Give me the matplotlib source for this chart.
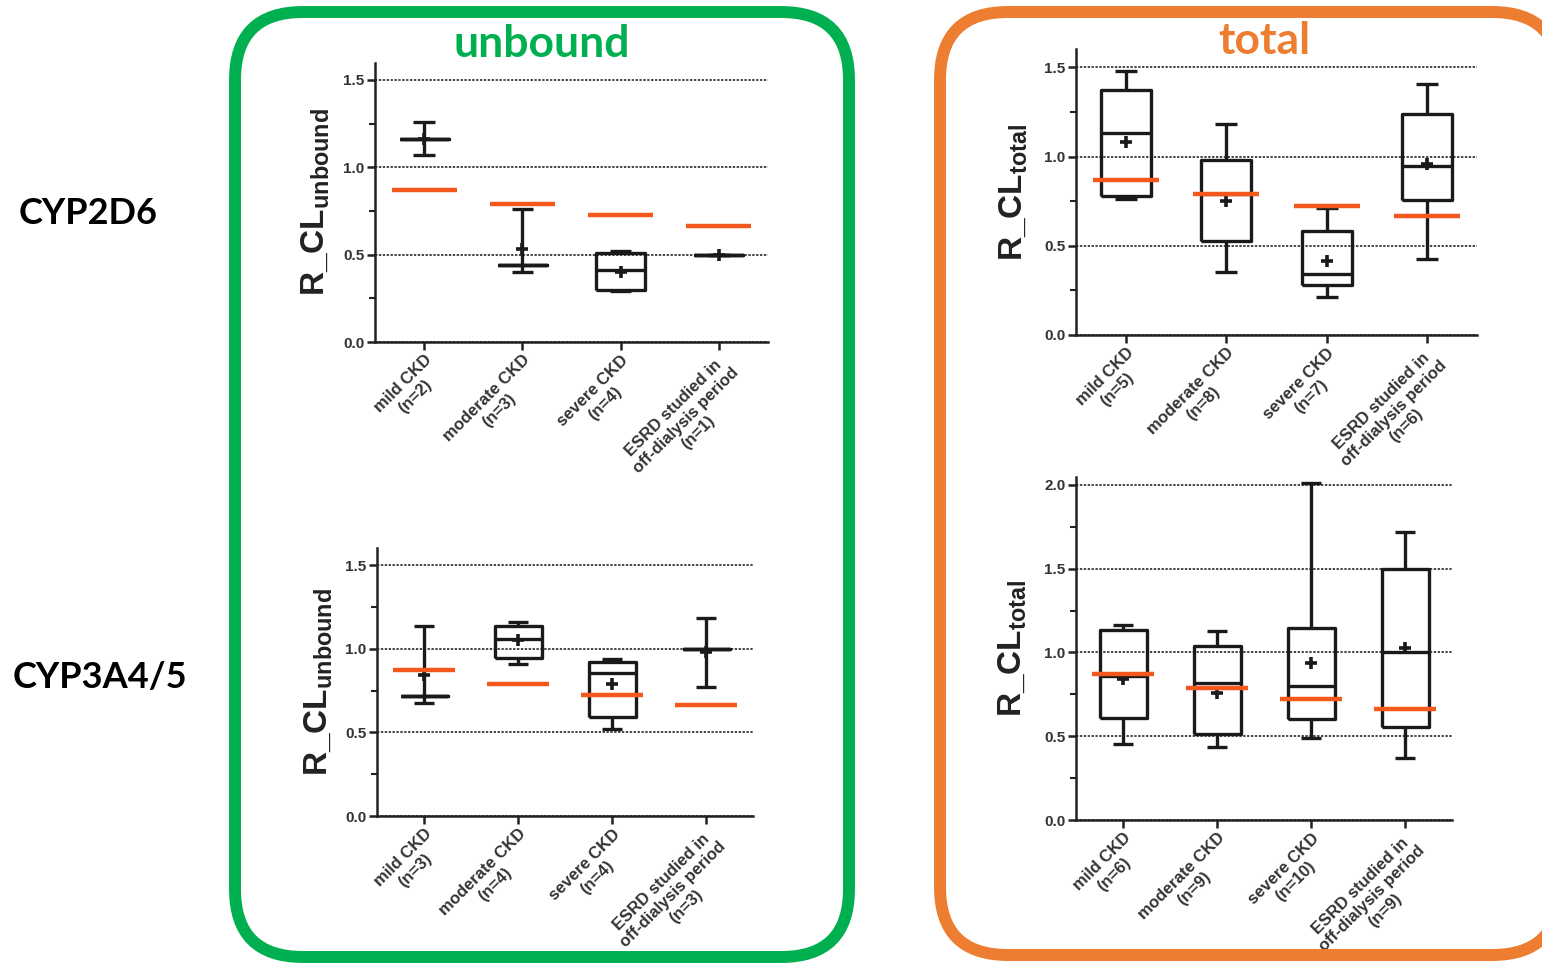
import matplotlib
matplotlib.use("Agg")
import numpy as np
import matplotlib.pyplot as plt
from matplotlib.patches import FancyBboxPatch
from matplotlib.ticker import MultipleLocator, FormatStrFormatter

plt.rcParams['font.family'] = ['Liberation Sans', 'DejaVu Sans']
plt.rcParams['mathtext.fontset'] = 'custom'
plt.rcParams['mathtext.rm'] = 'Liberation Sans'
plt.rcParams['mathtext.bf'] = 'Liberation Sans:bold'

# ---------------- data ----------------
groups = ["mild CKD", "moderate CKD", "severe CKD", "ESRD studied in\noff-dialysis period"]
predicted = [0.87, 0.79, 0.725, 0.665]   # orange reference lines

# CYP2D6 unbound
n_2d6_unb = [2, 3, 4, 1]
lo_2d6_unb = [1.07, 0.40, 0.29, 0.50]
q1_2d6_unb = [1.16, 0.44, 0.30, 0.50]
med_2d6_unb = [1.16, 0.44, 0.41, 0.50]
q3_2d6_unb = [1.16, 0.44, 0.51, 0.50]
hi_2d6_unb = [1.26, 0.76, 0.52, 0.50]
mean_2d6_unb = [1.16, 0.53, 0.40, 0.50]

# CYP2D6 total
n_2d6_tot = [5, 8, 7, 6]
lo_2d6_tot = [0.76, 0.355, 0.215, 0.426]
q1_2d6_tot = [0.78, 0.527, 0.28, 0.756]
med_2d6_tot = [1.13, 0.79, 0.34, 0.947]
q3_2d6_tot = [1.37, 0.98, 0.58, 1.24]
hi_2d6_tot = [1.48, 1.18, 0.71, 1.405]
mean_2d6_tot = [1.08, 0.75, 0.416, 0.96]

# CYP3A4/5 unbound
n_3a4_unb = [3, 4, 4, 3]
lo_3a4_unb = [0.674, 0.91, 0.517, 0.773]
q1_3a4_unb = [0.72, 0.947, 0.593, 1.0]
med_3a4_unb = [0.72, 1.058, 0.856, 1.0]
q3_3a4_unb = [0.72, 1.135, 0.92, 1.0]
hi_3a4_unb = [1.136, 1.16, 0.94, 1.186]
mean_3a4_unb = [0.843, 1.05, 0.79, 0.98]

# CYP3A4/5 total
n_3a4_tot = [6, 9, 10, 9]
lo_3a4_tot = [0.452, 0.438, 0.49, 0.368]
q1_3a4_tot = [0.607, 0.513, 0.60, 0.553]
med_3a4_tot = [0.86, 0.816, 0.80, 1.001]
q3_3a4_tot = [1.134, 1.039, 1.146, 1.499]
hi_3a4_tot = [1.164, 1.13, 2.014, 1.72]
mean_3a4_tot = [0.84, 0.756, 0.939, 1.025]

# ---------------- figure ----------------
W, H = 1542, 964
fig = plt.figure(figsize=(W / 100, H / 100), dpi=100)

GREEN = '#00B050'
ORANGE = '#ED7D31'
REDOR = '#F4581C'
INK = '#1a1a1a'

# rounded frames (inches); a near-invisible face disables Agg edge clipping
FACE = (1, 1, 1, 0.002)
fig.patches.append(FancyBboxPatch((2.35, 0.07), 8.49 - 2.35, 9.52 - 0.07,
                                  boxstyle='round,pad=0,rounding_size=0.68',
                                  fc=FACE, ec=GREEN, lw=8.6,
                                  transform=fig.dpi_scale_trans, figure=fig))
fig.patches.append(FancyBboxPatch((9.40, 0.09), 15.60 - 9.40, 9.52 - 0.09,
                                  boxstyle='round,pad=0,rounding_size=0.68',
                                  fc=FACE, ec=ORANGE, lw=8.6,
                                  transform=fig.dpi_scale_trans, figure=fig))

fig.text(542 / W, 1 - 44 / H, 'unbound', color=GREEN, fontsize=32, fontweight='bold',
         family='Lato', ha='center', va='center')
fig.text(1264 / W, 1 - 41 / H, 'total', color=ORANGE, fontsize=32, fontweight='bold',
         family='Lato', ha='center', va='center')
fig.text(88 / W, 1 - 213 / H, 'CYP2D6', color='black', fontsize=26, fontweight='bold',
         family='Lato', ha='center', va='center')
fig.text(100 / W, 1 - 678 / H, 'CYP3A4/5', color='black', fontsize=26, fontweight='bold',
         family='Lato', ha='center', va='center')


def px_axes(x0, x1, ytop, ybot):
    return fig.add_axes([x0 / W, 1 - ybot / H, (x1 - x0) / W, (ybot - ytop) / H])


def panel(ax, n, lo, q1, med, q3, hi, mean, ylim, sub, labx):
    stats = []
    for i in range(4):
        stats.append(dict(whislo=lo[i], q1=q1[i], med=med[i], q3=q3[i],
                          whishi=hi[i], mean=mean[i], fliers=[]))
    pos = np.arange(4)
    lp = dict(color=INK, lw=2.4, solid_capstyle='butt')
    ax.bxp(stats, positions=pos, widths=0.5, capwidths=0.22, showmeans=True,
           showfliers=False, boxprops=lp, whiskerprops=lp, capprops=lp,
           medianprops=lp,
           meanprops=dict(marker='+', markeredgecolor=INK, markerfacecolor=INK,
                          markersize=8, markeredgewidth=2.6))
    ax.hlines(predicted, pos - 0.33, pos + 0.33, colors=REDOR, lw=3.2, zorder=6)
    ax.set_xlim(-0.5, 3.5)
    ax.set_ylim(*ylim)
    ax.yaxis.set_major_locator(MultipleLocator(0.5))
    ax.yaxis.set_minor_locator(MultipleLocator(0.25))
    ax.yaxis.set_major_formatter(FormatStrFormatter('%.1f'))
    ax.yaxis.grid(True, which='major', linestyle=(0, (1.2, 0.8)), color='#444444', lw=1.4)
    ax.set_axisbelow(True)
    for s in ['top', 'right']:
        ax.spines[s].set_visible(False)
    for s in ['left', 'bottom']:
        ax.spines[s].set_linewidth(1.8)
        ax.spines[s].set_color('#222222')
    ax.tick_params(axis='both', which='major', direction='out', length=6, width=1.8,
                   color='#222222', labelcolor='#333333', labelsize=11, pad=1.5)
    ax.tick_params(axis='y', which='minor', direction='out', length=4, width=1.5,
                   color='#222222')
    for t in ax.get_yticklabels():
        t.set_fontweight('bold')
    ax.set_xticks(pos)
    ax.set_xticklabels([f"{g}\n(n={k})" for g, k in zip(groups, n)], rotation=45,
                       ha='right', va='top', rotation_mode='anchor',
                       multialignment='center', fontsize=12, fontweight='bold',
                       color='#333333')
    ax.set_ylabel(r'R_CL$_{\mathbf{' + sub + '}}$', fontsize=24, fontweight='bold',
                  color='#222222')
    ax.yaxis.set_label_coords(labx, 0.5)


ax1 = px_axes(375, 768, 62.5, 342)
panel(ax1, n_2d6_unb, lo_2d6_unb, q1_2d6_unb, med_2d6_unb, q3_2d6_unb, hi_2d6_unb,
      mean_2d6_unb, (0, 1.6), 'unbound', -0.11)

ax2 = px_axes(1076, 1477, 49.4, 335)
panel(ax2, n_2d6_tot, lo_2d6_tot, q1_2d6_tot, med_2d6_tot, q3_2d6_tot, hi_2d6_tot,
      mean_2d6_tot, (0, 1.6), 'total', -0.115)

ax3 = px_axes(377, 753, 548.3, 816)
panel(ax3, n_3a4_unb, lo_3a4_unb, q1_3a4_unb, med_3a4_unb, q3_3a4_unb, hi_3a4_unb,
      mean_3a4_unb, (0, 1.6), 'unbound', -0.112)

ax4 = px_axes(1076, 1452, 476.6, 820)
panel(ax4, n_3a4_tot, lo_3a4_tot, q1_3a4_tot, med_3a4_tot, q3_3a4_tot, hi_3a4_tot,
      mean_3a4_tot, (0, 2.05), 'total', -0.125)

fig.savefig('out.png', dpi=100)
